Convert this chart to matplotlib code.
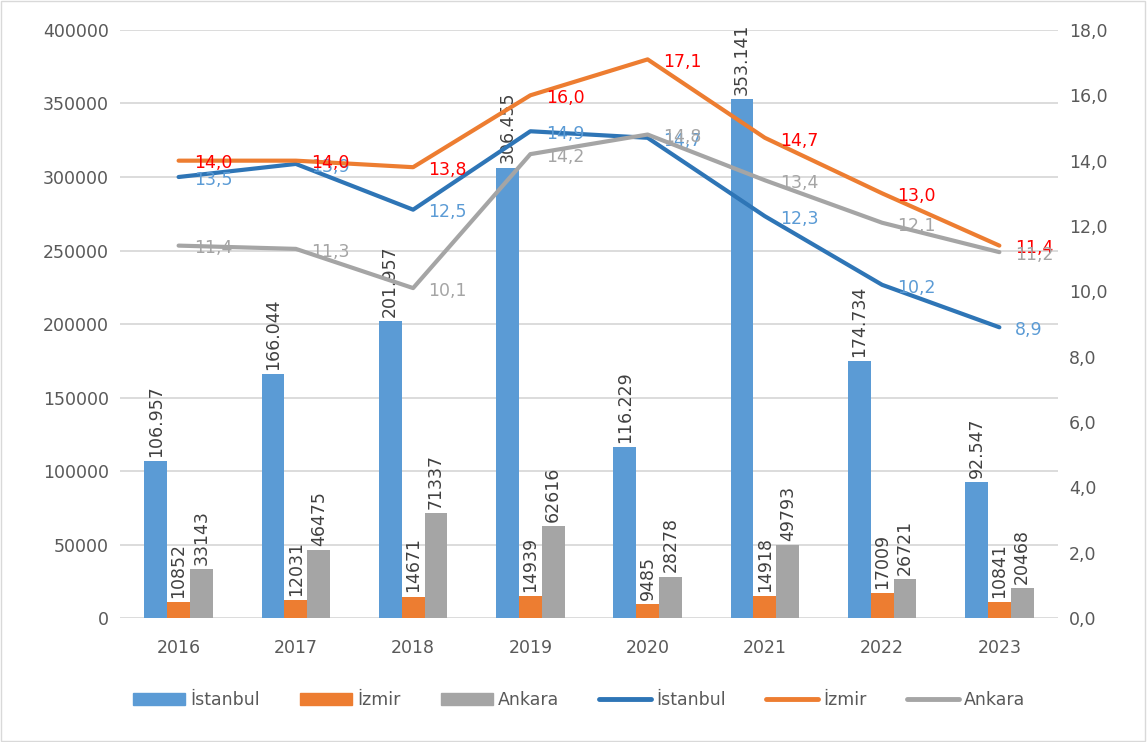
import matplotlib
matplotlib.use("Agg")
import matplotlib.pyplot as plt
from matplotlib.lines import Line2D
from matplotlib.patches import Patch, Rectangle
import numpy as np

plt.rcParams['font.family'] = ['DejaVu Sans']

# 数据
years = ['2016', '2017', '2018', '2019', '2020', '2021', '2022', '2023']
ist_bar = [106957, 166044, 201957, 306455, 116229, 353141, 174734, 92547]
izm_bar = [10852, 12031, 14671, 14939, 9485, 14918, 17009, 10841]
ank_bar = [33143, 46475, 71337, 62616, 28278, 49793, 26721, 20468]
ist_line = [13.5, 13.9, 12.5, 14.9, 14.7, 12.3, 10.2, 8.9]
izm_line = [14.0, 14.0, 13.8, 16.0, 17.1, 14.7, 13.0, 11.4]
ank_line = [11.4, 11.3, 10.1, 14.2, 14.8, 13.4, 12.1, 11.2]

c_ist_bar = '#5B9BD5'
c_ist_line = '#2E75B6'
c_izm = '#ED7D31'
c_ank = '#A5A5A5'
c_text = '#595959'
fs = 12.5

fig = plt.figure(figsize=(11.47, 7.42), dpi=100)
ax = fig.add_axes([0.1046, 0.167, 0.8178, 0.7926])
ax2 = ax.twinx()

x = np.arange(len(years))
w = 0.195

# 柱状图
ax.bar(x - w, ist_bar, w, color=c_ist_bar, zorder=2)
ax.bar(x, izm_bar, w, color=c_izm, zorder=2)
ax.bar(x + w, ank_bar, w, color=c_ank, zorder=2)

ax.set_xlim(-0.5, len(years) - 0.5)
ax.set_ylim(0, 400000)
ax.set_yticks(np.arange(0, 400001, 50000))
ax.yaxis.grid(True, color='#D9D9D9', linewidth=1.3, zorder=0)
ax.set_axisbelow(True)
ax.set_xticks(x)
ax.set_xticklabels(years)
for s in ax.spines.values():
    s.set_visible(False)
for s in ax2.spines.values():
    s.set_visible(False)
ax.tick_params(length=0, labelsize=fs, labelcolor=c_text, pad=8)
ax.tick_params(axis='x', pad=15)

# 柱状图标签
for xs, vals, fmt in [(x - w, ist_bar, 'dot'), (x, izm_bar, 'plain'), (x + w, ank_bar, 'plain')]:
    for xi, v in zip(xs, vals):
        t = f'{v:,}'.replace(',', '.') if fmt == 'dot' else str(v)
        ax.annotate(t, (xi, v), xytext=(0, 3), textcoords='offset points',
                    rotation=90, ha='center', va='bottom', fontsize=fs, color='#404040')

# 折线图
ax2.set_ylim(0, 18)
ax2.set_yticks(np.arange(0, 18.1, 2))
ax2.set_yticklabels([f'{v:.1f}'.replace('.', ',') for v in np.arange(0, 18.1, 2)])
ax2.tick_params(length=0, labelsize=fs, labelcolor=c_text, pad=8)

for vals, col, lc in [(ist_line, c_ist_line, c_ist_bar), (izm_line, c_izm, '#FF0000'), (ank_line, c_ank, c_ank)]:
    ax2.plot(x, vals, color=col, linewidth=3, solid_capstyle='round', zorder=3)
    for xi, v in zip(x, vals):
        ax2.annotate(f'{v:.1f}'.replace('.', ','), (xi, v), xytext=(11, -2), textcoords='offset points',
                     ha='left', va='center', fontsize=fs, color=lc)

# 图例
handles = [Patch(color=c_ist_bar), Patch(color=c_izm), Patch(color=c_ank),
           Line2D([], [], color=c_ist_line, linewidth=3.5, solid_capstyle='round'),
           Line2D([], [], color=c_izm, linewidth=3.5, solid_capstyle='round'),
           Line2D([], [], color=c_ank, linewidth=3.5, solid_capstyle='round')]
labels = ['İstanbul', 'İzmir', 'Ankara', 'İstanbul', 'İzmir', 'Ankara']
fig.legend(handles, labels, loc='center', bbox_to_anchor=(0.505, 0.056), ncol=6, frameon=False,
           fontsize=fs, labelcolor=c_text, handlelength=3.0, handletextpad=0.3, columnspacing=2.3)

# 边框
fig.patches.append(Rectangle((0.001, 0.001), 0.997, 0.997, transform=fig.transFigure,
                             fill=False, edgecolor='#D9D9D9', linewidth=1))

fig.savefig('out.png', dpi=100)
